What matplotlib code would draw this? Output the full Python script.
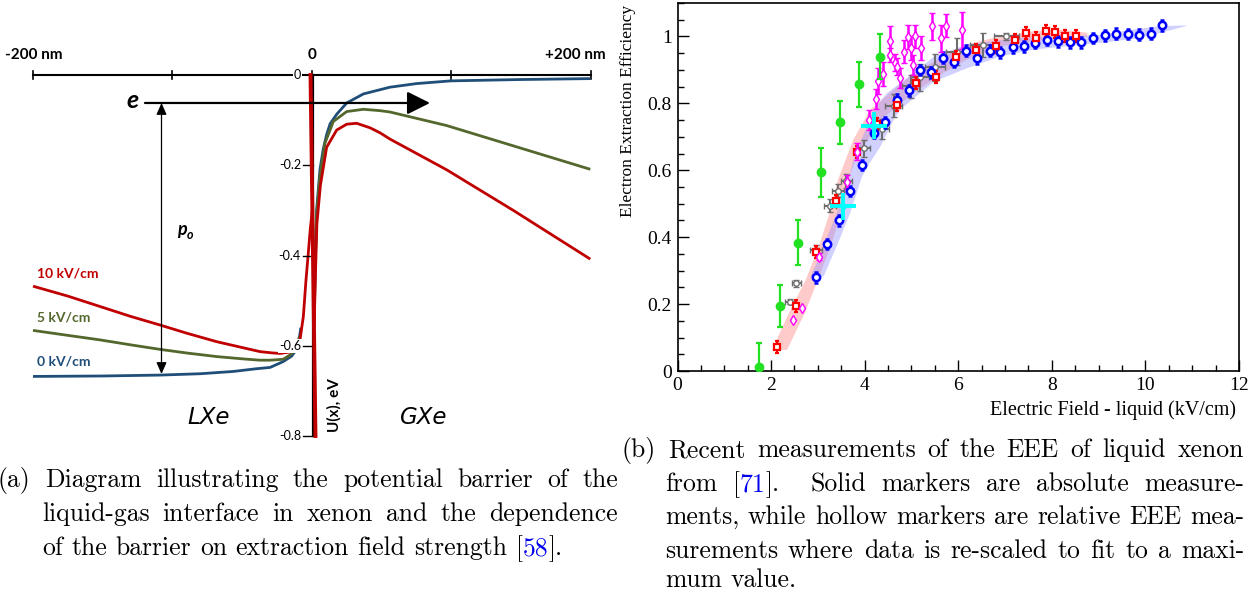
import re
import numpy as np
import matplotlib
matplotlib.use("Agg")
import matplotlib.pyplot as plt
from matplotlib.ticker import MultipleLocator, FuncFormatter
from matplotlib.transforms import IdentityTransform

# ---------------- (a) potential energy U(x) across the LXe / GXe surface ----------------
# liquid side (x < 0), nm / eV
x_liq_0kv = [-200, -150, -109, -80, -56.6, -40, -30, -20.6, -14.6, -12.2, -9.3, -8]
u_liq_0kv = [-0.668, -0.667, -0.665, -0.662, -0.657, -0.651, -0.648, -0.635, -0.623, -0.613, -0.587, -0.56]
x_liq_5kv = [-200, -175, -152, -130, -109, -90, -68.3, -50, -37.3, -30, -20.6, -14.6, -11, -9]
u_liq_5kv = [-0.566, -0.577, -0.587, -0.598, -0.608, -0.616, -0.624, -0.629, -0.632, -0.632, -0.630, -0.618, -0.60, -0.58]
x_liq_10kv = [-200, -175, -152, -130, -109, -90, -68.3, -50, -37.3, -28, -22.9, -16, -11, -8.6, -6.2, -4.3, -2.8,
              -1.2, 0.2]
u_liq_10kv = [-0.468, -0.49, -0.513, -0.535, -0.554, -0.572, -0.591, -0.604, -0.613, -0.616, -0.617, -0.614, -0.605,
              -0.587, -0.535, -0.454, -0.40, -0.34, -0.30]
# gas side (x > 0)
x_gas_0kv = [1.5, 2.3, 3.3, 5.7, 8, 10.5, 13, 17.7, 24.9, 36.8, 55.9, 75, 99.6, 150, 199.5]
u_gas_0kv = [-0.55, -0.42, -0.30, -0.21, -0.165, -0.132, -0.108, -0.087, -0.062, -0.042, -0.027, -0.019, -0.013,
             -0.010, -0.008]
x_gas_5kv = [1.5, 2.3, 3.3, 5.7, 9.3, 15.3, 24.9, 36.8, 48.7, 55.9, 96.5, 144.3, 199.5]
u_gas_5kv = [-0.55, -0.42, -0.31, -0.225, -0.151, -0.103, -0.081, -0.076, -0.079, -0.082, -0.112, -0.157, -0.209]
x_gas_10kv = [1.5, 2.5, 3.5, 6.0, 10.5, 17.7, 24.9, 32, 41.6, 48.7, 55.9, 96.5, 144.3, 199.5]
u_gas_10kv = [-0.56, -0.44, -0.33, -0.245, -0.16, -0.122, -0.109, -0.107, -0.117, -0.128, -0.142, -0.21, -0.30, -0.408]

u_ticks = [0, -0.2, -0.4, -0.6, -0.8]
u_tick_labels = ["0", "-0.2", "-0.4", "-0.6", "-0.8"]
x_ticks_nm = [-200, -100, 0, 100, 200]
field_labels = ["10 kV/cm", "5 kV/cm", "0 kV/cm"]
electron_level = -0.062   # energy of the escaping electron
bulk_level = -0.6626      # bottom of the conduction band in the liquid

# ---------------- (b) electron extraction efficiency vs field ----------------
green_x = [1.74, 2.18, 2.57, 3.06, 3.47, 3.87, 4.32]
green_y = [0.013, 0.194, 0.384, 0.594, 0.743, 0.857, 0.940]
green_err = [0.07, 0.062, 0.066, 0.074, 0.063, 0.067, 0.067]

magenta_x = [2.46, 2.67, 3.02, 3.62, 3.83, 4.10, 4.24, 4.29, 4.39, 4.54, 4.54, 4.65, 4.70, 4.75, 4.85, 4.93,
             4.98, 5.03, 5.08, 5.21, 5.44, 5.64, 5.74, 6.07]
magenta_y = [0.153, 0.187, 0.342, 0.565, 0.656, 0.751, 0.814, 0.867, 0.888, 0.985, 0.945, 0.922, 0.910, 0.875,
             0.955, 0.998, 0.965, 0.915, 1.0, 0.965, 1.03, 0.995, 1.032, 1.018]
magenta_err = [0, 0, 0.01, 0.02, 0.025, 0.03, 0.03, 0.04, 0.035, 0.045, 0.02, 0.025, 0.025, 0.03, 0.035, 0.035,
               0.035, 0.03, 0.035, 0.035, 0.04, 0.04, 0.035, 0.055]

blue_x = [2.955, 3.19, 3.45, 3.69, 3.95, 4.19, 4.44, 4.69, 4.94, 5.19, 5.42, 5.67, 5.91, 6.16, 6.40, 6.67, 6.90,
          7.16, 7.40, 7.65, 7.90, 8.14, 8.39, 8.63, 8.89, 9.13, 9.38, 9.62, 9.87, 10.12, 10.35]
blue_y = [0.280, 0.380, 0.450, 0.538, 0.616, 0.711, 0.743, 0.811, 0.839, 0.900, 0.893, 0.937, 0.925, 0.958, 0.935,
          0.957, 0.953, 0.968, 0.970, 0.980, 0.990, 0.985, 0.982, 0.982, 0.995, 1.003, 1.008, 1.007, 1.005, 1.008,
          1.033]
blue_err = 0.016

red_x = [2.13, 2.54, 2.97, 3.39, 3.83, 4.26, 4.69, 5.10, 5.53, 5.96, 6.38, 6.80, 7.22, 7.45, 7.66, 7.87, 8.07,
         8.29, 8.51]
red_y = [0.073, 0.194, 0.357, 0.509, 0.656, 0.738, 0.796, 0.860, 0.880, 0.940, 0.960, 0.970, 0.990, 1.010, 0.995,
         1.015, 1.012, 1.002, 1.000]
red_err = 0.018

gray_x = [2.40, 2.54, 2.96, 3.26, 3.43, 3.61, 3.99, 4.36, 4.62, 4.98, 5.18, 5.50, 5.98, 6.53, 7.03]
gray_y = [0.207, 0.262, 0.362, 0.494, 0.539, 0.568, 0.666, 0.723, 0.793, 0.851, 0.878, 0.908, 0.955, 0.975, 1.0]
gray_xerr = [0.10, 0.10, 0.12, 0.12, 0.12, 0.12, 0.13, 0.15, 0.18, 0.18, 0.20, 0.22, 0.25, 0.28, 0.27]
gray_yerr = [0.008, 0.01, 0.015, 0.02, 0.02, 0.02, 0.025, 0.03, 0.035, 0.035, 0.04, 0.04, 0.04, 0.035, 0.01]

cyan_x = [3.53, 4.20]
cyan_y = [0.492, 0.733]
cyan_xerr = [0.28, 0.28]
cyan_yerr = [0.04, 0.04]

# uncertainty bands (upper-left edge and lower-right edge)
red_band_up_x = [2.02, 2.38, 2.74, 3.02, 3.25, 3.43, 3.76, 4.12, 4.62, 5.05, 5.62, 6.19, 6.91, 7.62, 8.19, 8.76]
red_band_up_y = [0.063, 0.173, 0.272, 0.372, 0.472, 0.572, 0.692, 0.781, 0.841, 0.891, 0.936, 0.976, 1.001, 1.016,
                 1.02, 1.011]
red_band_lo_x = [2.34, 2.72, 3.00, 3.27, 3.50, 3.66, 3.80, 4.34, 5.05, 5.62, 6.19, 6.91, 7.62, 8.33, 8.76]
red_band_lo_y = [0.063, 0.173, 0.272, 0.372, 0.472, 0.572, 0.632, 0.751, 0.831, 0.886, 0.931, 0.971, 0.986, 0.996,
                 0.999]
blue_band_up_x = [2.84, 3.0, 3.40, 3.66, 3.76, 4.19, 4.48, 5.05, 5.48, 6.19, 7.26, 8.33, 9.05, 9.76, 10.33, 10.87]
blue_band_up_y = [0.282, 0.33, 0.472, 0.572, 0.632, 0.781, 0.831, 0.891, 0.940, 0.976, 0.996, 1.0, 1.005, 1.021,
                  1.031, 1.033]
blue_band_lo_x = [3.12, 3.40, 3.69, 3.94, 4.10, 4.34, 4.62, 4.76, 5.05, 5.48, 6.19, 6.91, 7.62, 8.33, 9.05, 9.76,
                  10.33, 10.87]
blue_band_lo_y = [0.282, 0.372, 0.472, 0.58, 0.62, 0.672, 0.751, 0.781, 0.815, 0.865, 0.905, 0.941, 0.961, 0.971,
                  0.981, 0.993, 1.011, 1.031]

caption_a = [
    "(a) Diagram illustrating the potential barrier of the",
    "liquid-gas interface in xenon and the dependence",
    "of the barrier on extraction field strength [58].",
]
caption_b = [
    "(b) Recent measurements of the EEE of liquid xenon",
    "from [71].  Solid markers are absolute measure-",
    "ments, while hollow markers are relative EEE mea-",
    "surements where data is re-scaled to fit to a maxi-",
    "mum value.",
]

W, H = 1255, 593
fig = plt.figure(figsize=(W / 100, H / 100), dpi=100)

RED, GREEN, BLUE = "#C00000", "#54682E", "#1F4E79"
SANS = "Lato"

# ---------------- panel (a) ----------------
ax1 = fig.add_axes([0, (H - 450) / H, 620 / W, 420 / H])
ax1.set_xlim((0 - 312) / 1.395, (620 - 312) / 1.395)
ax1.set_ylim(-(450 - 75) / 451.25, -(30 - 75) / 451.25)
ax1.axis("off")


def at(xp, yp):
    # pixel position inside the diagram -> nm / eV
    return (xp - 312) / 1.395, -(yp - 75) / 451.25


# top distance axis
ax1.plot([x_ticks_nm[0], x_ticks_nm[-1]], [0, 0], color="black", lw=1.5, zorder=2)
for t in x_ticks_nm:
    ax1.plot([t, t], [-0.009, 0.009], color="black", lw=1.2, zorder=2)
ax1.text(*at(5, 55), "-200 nm", ha="left", va="center", fontsize=11, fontweight="bold", family=SANS)
ax1.text(*at(312, 55), "0", ha="center", va="center", fontsize=11, fontweight="bold", family=SANS)
ax1.text(*at(606, 55), "+200 nm", ha="right", va="center", fontsize=11, fontweight="bold", family=SANS)

# curves
for xs, us, c in [(x_liq_0kv, u_liq_0kv, BLUE), (x_gas_0kv, u_gas_0kv, BLUE),
                  (x_liq_5kv, u_liq_5kv, GREEN), (x_gas_5kv, u_gas_5kv, GREEN),
                  (x_liq_10kv, u_liq_10kv, RED), (x_gas_10kv, u_gas_10kv, RED)]:
    ax1.plot(xs, us, color=c, lw=2.0, solid_capstyle="butt", solid_joinstyle="round", zorder=3)

# energy axis at the interface
ax1.plot([0.36, 0.36], [0, -0.8], color="black", lw=1.6, zorder=4)
ax1.plot([-1.07, 2.5], [0, -0.8], color=RED, lw=2.8, zorder=5)
for v, lab in zip(u_ticks, u_tick_labels):
    if v != 0:
        ax1.plot([-6.5, 0.36], [v, v], color="black", lw=1.0, zorder=4)
    ax1.text(at(301, 0)[0], v, lab, ha="right", va="center", fontsize=9, family=SANS, zorder=6,
             bbox=dict(facecolor="white", edgecolor="none", pad=0.6))
ax1.text(*at(334, 405), "U(x), eV", rotation=90, ha="center", va="center", fontsize=11,
         fontweight="bold", family=SANS)

# electron and barrier height
ax1.annotate("", xy=(at(430, 0)[0], electron_level), xytext=(at(145, 0)[0], electron_level),
             arrowprops=dict(arrowstyle="-|>,head_length=0.7,head_width=0.35", color="black", lw=1.6,
                             mutation_scale=20, shrinkA=0, shrinkB=0), zorder=6)
ax1.text(*at(133, 100), "e", ha="center", va="center", fontsize=18, fontweight="bold", style="italic",
         family=SANS)
xp_arrow = at(161.5, 0)[0]
ax1.annotate("", xy=(xp_arrow, electron_level), xytext=(xp_arrow, bulk_level),
             arrowprops=dict(arrowstyle="<|-|>,head_length=0.5,head_width=0.22", color="black", lw=0.9,
                             mutation_scale=14, shrinkA=0, shrinkB=0), zorder=6)
ax1.text(*at(182, 230), "p", ha="center", va="center", fontsize=13, fontweight="bold", style="italic",
         family=SANS)
ax1.text(*at(190, 235), "o", ha="center", va="center", fontsize=9, fontweight="bold", style="italic",
         family=SANS)

for lab, c, yp in zip(field_labels, [RED, GREEN, BLUE], [273, 318, 362]):
    ax1.text(*at(37, yp), lab, color=c, ha="left", va="center", fontsize=10, fontweight="bold", family=SANS)
ax1.text(*at(209, 417), "LXe", ha="center", va="center", fontsize=16.5, style="italic", family="DejaVu Sans")
ax1.text(*at(424, 417), "GXe", ha="center", va="center", fontsize=16.5, style="italic", family="DejaVu Sans")

# ---------------- panel (b) ----------------
SERIF = "Liberation Serif"
ax2 = fig.add_axes([677.5 / W, (H - 371) / H, (1239 - 677.5) / W, 368 / H])
ax2.set_xlim(0, 12)
ax2.set_ylim(0, 1.1)

ax2.fill(red_band_up_x + red_band_lo_x[::-1], red_band_up_y + red_band_lo_y[::-1],
         color="#ff8a8a", alpha=0.45, lw=0, zorder=1)
ax2.fill(blue_band_up_x + blue_band_lo_x[::-1], blue_band_up_y + blue_band_lo_y[::-1],
         color="#8c8cff", alpha=0.4, lw=0, zorder=1)

ax2.errorbar(green_x, green_y, yerr=green_err, fmt="o", color="#22e022", ms=6, elinewidth=1.6,
             capsize=2, capthick=1.6, zorder=5, clip_on=True)
ax2.errorbar(gray_x, gray_y, xerr=gray_xerr, yerr=gray_yerr, fmt="o", color="#6e6e6e", mfc="white",
             ms=4, mew=1.0, elinewidth=1.5, capsize=2, capthick=1.5, zorder=3)
ax2.errorbar(blue_x, blue_y, yerr=blue_err, fmt="o", color="#0000ff", mfc="white", ms=5.3, mew=1.8,
             elinewidth=1.5, capsize=1.5, capthick=1.5, zorder=4)
ax2.errorbar(red_x, red_y, yerr=red_err, fmt="s", color="#ff0000", mfc="white", ms=4.2, mew=1.6,
             elinewidth=1.5, capsize=1.5, capthick=1.5, zorder=4)
ax2.errorbar(magenta_x, magenta_y, yerr=magenta_err, fmt="d", color="#ff00ff", mfc="white", ms=5.2, mew=1.0,
             elinewidth=1.8, capsize=2.2, capthick=1.5, zorder=4)
ax2.errorbar(cyan_x, cyan_y, xerr=cyan_xerr, yerr=cyan_yerr, fmt="s", color="#00ffff", ms=3.5,
             elinewidth=2.8, capsize=0, zorder=5)

ax2.xaxis.set_major_locator(MultipleLocator(2))
ax2.xaxis.set_minor_locator(MultipleLocator(0.5))
ax2.yaxis.set_major_locator(MultipleLocator(0.2))
ax2.yaxis.set_minor_locator(MultipleLocator(0.05))
ax2.xaxis.set_major_formatter(FuncFormatter(lambda v, _: f"{v:g}"))
ax2.yaxis.set_major_formatter(FuncFormatter(lambda v, _: f"{v:g}"))
ax2.tick_params(which="both", direction="in", top=False, right=False, width=1.0, labelsize=14)
ax2.tick_params(which="major", length=8, pad=4)
ax2.tick_params(which="minor", length=4)
for lab in ax2.get_xticklabels() + ax2.get_yticklabels():
    lab.set_family(SERIF)
for s in ax2.spines.values():
    s.set_linewidth(1.2)

fig.text(628 / W, 1 - 5 / H, "Electron Extraction Efficiency", rotation=90, ha="center", va="top",
         fontsize=12.5, family=SERIF)
fig.text(1236 / W, 1 - 410 / H, "Electric Field - liquid (kV/cm)", ha="right", va="center",
         fontsize=14.5, family=SERIF)

# ---------------- captions ----------------
CITE = "#0000ee"
CAP_SIZE = 18.5
renderer = fig.canvas.get_renderer()


def pieces(word):
    m = re.match(r"^(.*\[)(\d+)(\].*)$", word)
    if m:
        return [(m.group(1), "black"), (m.group(2), CITE), (m.group(3), "black")]
    return [(word, "black")]


def caption(lines, x_first, x_rest, x_right, baselines):
    space = 0.333 * CAP_SIZE * fig.dpi / 72
    for i, line in enumerate(lines):
        parts = re.split(r"( +)", line)
        words, gaps = parts[0::2], [len(g) for g in parts[1::2]]
        placed = []
        total = 0.0
        for w in words:
            segs = []
            for txt, col in pieces(w):
                t = fig.text(0, 0, txt, color=col, fontsize=CAP_SIZE, family="cmr10", va="baseline",
                             ha="left", transform=IdentityTransform())
                wd = t.get_window_extent(renderer).width
                segs.append((t, wd))
                total += wd
            placed.append(segs)
        x0 = x_first if i == 0 else x_rest
        gap = space
        if i < len(lines) - 1 and gaps:
            gap = (x_right - x0 - total) / sum(gaps)
        x = x0
        y = H - baselines[i]
        for k, segs in enumerate(placed):
            for t, wd in segs:
                t.set_position((x, y))
                x += wd
            if k < len(gaps):
                x += gap * gaps[k]


caption(caption_a, -2, 42, 618, [487, 521, 555])
caption(caption_b, 622, 665, 1244, [457, 491, 524, 558, 587])

fig.savefig("out.png", dpi=100)
